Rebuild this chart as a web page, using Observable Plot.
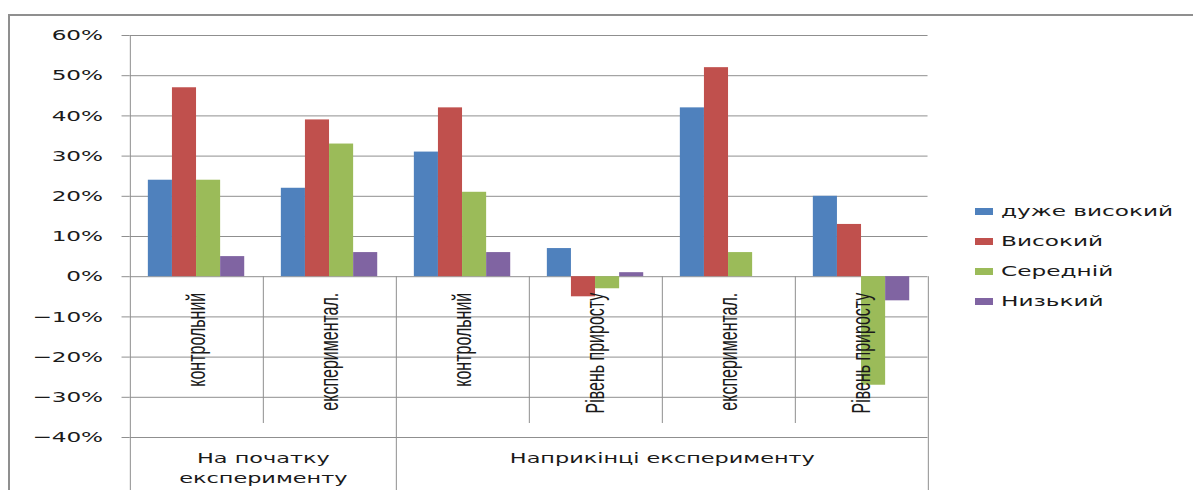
<!DOCTYPE html>
<html>
<head>
<meta charset="utf-8">
<script src="https://cdn.jsdelivr.net/npm/d3@7"></script>
<script src="https://cdn.jsdelivr.net/npm/@observablehq/plot@0.6"></script>
<style>
  html, body { margin: 0; background: #fff; }
  #chart { position: relative; width: 1193px; height: 490px; overflow: hidden; background: #fff; }
  #border { position: absolute; left: 8px; top: 14px; width: 1200px; height: 500px;
            border: 2px solid #8f8f8f; box-sizing: border-box; }
  #chart svg { position: absolute; left: 0; top: 0; }
  #chart svg * { vector-effect: non-scaling-stroke; }
  #legend { position: absolute; left: 975px; top: 196px; font-family: "DejaVu Sans", sans-serif;
            font-size: 14.5px; color: #1a1a1a; }
  #legend .item { display: flex; align-items: center; height: 30px; }
  #legend .sw { width: 18px; height: 7px; }
  #legend .lb { display: inline-block; margin-left: 8px; transform: scaleX(1.6); transform-origin: 0 50%;
                white-space: nowrap; }
</style>
</head>
<body>
<div id="chart"><div id="border"></div></div>
<script>
// Categories along the x axis, with the experiment stage each one belongs to
const categories = ["контрольний", "експериментал.", "контрольний", "Рівень приросту", "експериментал.", "Рівень приросту"];
const categoryGroup = [0, 0, 1, 1, 1, 1];
const groups = ["На початку\nексперименту", "Наприкінці експерименту"];

// Levels (series) and their colours
const seriesNames = ["дуже високий", "Високий", "Середній", "Низький"];
const seriesColors = ["#4f81bd", "#c0504d", "#9bbb59", "#8064a2"];

// Share of pupils per level, percent
const veryHigh = [24, 22, 31, 7, 42, 20];
const high     = [47, 39, 42, -5, 52, 13];
const medium   = [24, 33, 21, -3, 6, -27];
const low      = [5, 6, 6, 1, 0, -6];

const yTicks = [-0.4, -0.3, -0.2, -0.1, 0, 0.1, 0.2, 0.3, 0.4, 0.5, 0.6];

// The chart is laid out on a narrower canvas and stretched horizontally
const W = 1193, H = 490, S = 1.6;
const w = Math.round(W / S);
const sx = W / w;

const seriesValues = [veryHigh, high, medium, low];
const sub = d3.scaleBand(seriesNames, [0, 1]).paddingInner(0).paddingOuter(0.76);
const rows = categories.flatMap((c, i) => seriesNames.map((s, j) => ({
  series: s,
  value: seriesValues[j][i] / 100,
  x1: i + sub(s),
  x2: i + sub(s) + sub.bandwidth()
})));

const groupSpans = groups.map((label, k) => {
  const idx = categoryGroup.map((g, i) => g === k ? i : -1).filter(i => i >= 0);
  return {label, start: d3.min(idx), end: d3.max(idx) + 1};
});
const groupBounds = [0, ...groupSpans.map(g => g.end)];
const innerBounds = d3.range(1, categories.length).filter(i => categoryGroup[i] === categoryGroup[i - 1]);

const yMin = yTicks[0], yMax = yTicks[yTicks.length - 1];
const marginBottom = 53;
const grey = "#8f8f8f";

const chart = Plot.plot({
  width: w,
  height: H,
  marginTop: 35,
  marginBottom,
  marginLeft: 81,
  marginRight: 166,
  style: {fontFamily: "DejaVu Sans, sans-serif", fontSize: "14.5px", color: "#1a1a1a", background: "transparent"},
  x: {domain: [0, categories.length], axis: null},
  y: {domain: [yMin, yMax], ticks: yTicks, tickFormat: d3.format(".0%"), tickSize: 0, tickPadding: 17, label: null},
  color: {domain: seriesNames, range: seriesColors},
  marks: [
    Plot.ruleY(yTicks, {stroke: grey, strokeWidth: 1}),
    Plot.ruleY(yTicks, {x1: 0, x2: 0, insetLeft: -5, stroke: grey}),
    Plot.rect(rows, {x1: "x1", x2: "x2", y1: 0, y2: "value", fill: "series"}),
    // left axis line
    Plot.ruleX([0], {y1: yMax, y2: yMin, insetBottom: -marginBottom, stroke: grey}),
    // group boundaries in the category table
    Plot.ruleX(groupBounds.slice(1), {y1: 0, y2: yMin, insetBottom: -marginBottom, stroke: grey}),
    // category boundaries inside a group
    Plot.ruleX(innerBounds, {y1: 0, y2: yMin, insetBottom: 14, stroke: grey}),
    Plot.text(categories, {
      x: (d, i) => i + 0.5, y: 0, text: d => d, rotate: -90, textAnchor: "end", dy: 16,
      fontFamily: "Liberation Sans, Arial, sans-serif", fontSize: 16, fill: "#1a1a1a", ariaLabel: "category"
    }),
    Plot.text(groupSpans, {
      x: d => (d.start + d.end) / 2, frameAnchor: "bottom", text: "label", lineAnchor: "top",
      dy: 11, lineHeight: 1.43, fontSize: 14, fill: "#1a1a1a"
    })
  ]
});

chart.setAttribute("width", W);
chart.setAttribute("height", H);
chart.setAttribute("preserveAspectRatio", "none");
chart.style.maxWidth = "none";
chart.style.height = H + "px";
chart.style.width = W + "px";

// rotated category labels are compressed back across their height
chart.querySelectorAll('g[aria-label="category"] text').forEach(t => {
  const tr = t.getAttribute("transform") || "";
  t.setAttribute("transform", tr + ` scale(1,${(1 / sx * 1.28).toFixed(3)})`);
});

const root = document.getElementById("chart");
root.appendChild(chart);

const legend = document.createElement("div");
legend.id = "legend";
seriesNames.forEach((name, j) => {
  const item = document.createElement("div");
  item.className = "item";
  const sw = document.createElement("span");
  sw.className = "sw";
  sw.style.background = seriesColors[j];
  const lb = document.createElement("span");
  lb.className = "lb";
  lb.textContent = name;
  item.append(sw, lb);
  legend.appendChild(item);
});
root.appendChild(legend);
</script>
</body>
</html>
